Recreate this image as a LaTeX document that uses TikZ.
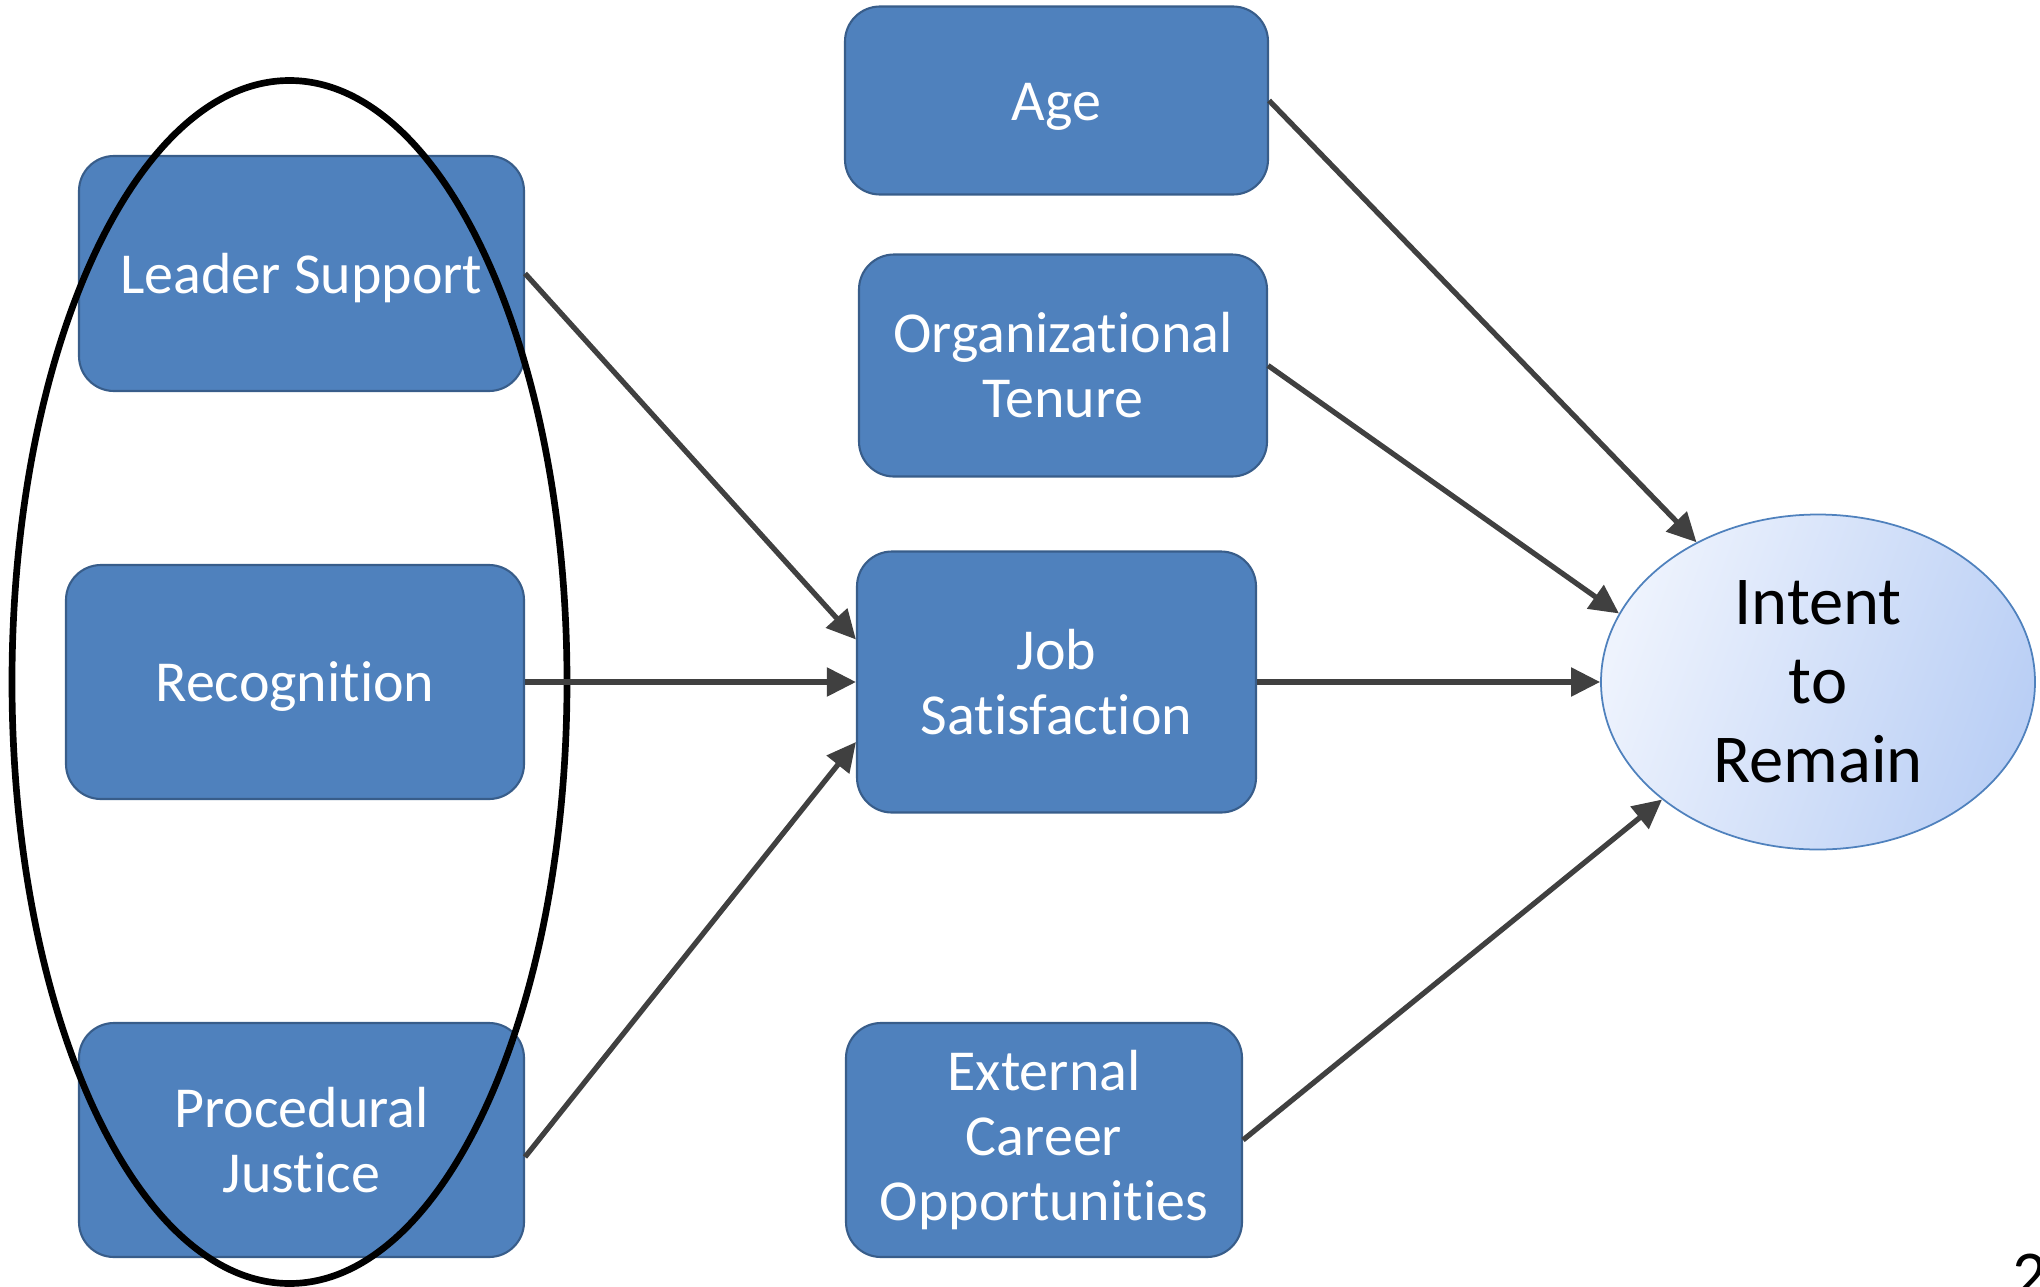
\documentclass[tikz,border=0pt]{standalone}
\usepackage{fontspec}
\setmainfont{Carlito}[Ligatures=NoCommon]
\usetikzlibrary{arrows.meta,shapes.geometric}
\definecolor{boxblue}{HTML}{4F81BD}
\definecolor{boxedge}{HTML}{385D8A}
\definecolor{arrowgray}{HTML}{404040}
\definecolor{ovallight}{HTML}{EEF3FD}
\definecolor{ovaldark}{HTML}{BACFF5}

\begin{document}
\begin{tikzpicture}
      \tikzset{
        factor/.style={draw=boxedge, line width=0.6pt, rectangle, fill=boxblue, rounded corners=0.35cm, text=white, align=center, font=\fontsize{16.5}{18.5}\selectfont},
        oneline/.style={text height=0.39cm, text depth=0pt},
        outcome/.style={draw=boxblue, line width=0.5pt, ellipse, top color=ovallight, bottom color=ovaldark, shading angle=70, align=center, inner sep=0pt, font=\fontsize{19.5}{22.5}\selectfont},
        cluster/.style={draw=black, line width=1.9pt, ellipse, inner sep=0pt},
        line/.style={draw=arrowgray, line width=1.5pt, -{Triangle[length=0.29cm, width=0.28cm]}},
      }
      \useasboundingbox (0,0) rectangle (20.4,-12.87);

      % antecedents on the left
      \node [factor, oneline, minimum width=4.45cm, minimum height=2.35cm] (lead) at (3.015,-2.735) {Leader Support};
      \node [factor, oneline, below of=lead, node distance=4.085cm, xshift=-0.065cm, minimum width=4.58cm, minimum height=2.34cm] (recog) {Recognition};
      \node [factor, below of=recog, node distance=4.58cm, xshift=0.065cm, minimum width=4.45cm, minimum height=2.34cm] (proc) {Procedural\\Justice};

      % middle column
      \node [factor, right of=recog, node distance=7.615cm, minimum width=3.99cm, minimum height=2.61cm] (jobsat) {Job\\Satisfaction};
      \node [factor, above of=jobsat, node distance=3.165cm, xshift=0.065cm, minimum width=4.08cm, minimum height=2.22cm] (tenure) {Organizational\\Tenure};
      \node [factor, oneline, above of=jobsat, node distance=5.815cm, minimum width=4.23cm, minimum height=1.88cm] (age) {Age};
      \node [factor, right of=proc, node distance=7.425cm, minimum width=3.96cm, minimum height=2.34cm] (career) {External\\Career\\Opportunities};

      \node [outcome, right of=jobsat, node distance=7.615cm, minimum width=4.34cm, minimum height=3.35cm] (intent) {Intent\\to\\Remain};

      % ring round the three left boxes
      \node [cluster, minimum width=5.55cm, minimum height=12.03cm, xshift=-0.055cm] (pillars) at (recog) {};

      \path [line] (lead.east)--([yshift=0.425cm]jobsat.west);
      \path [line] (recog.east)--(jobsat.west);
      \path [line] ([yshift=-0.17cm]proc.east)--([yshift=-0.6cm]jobsat.west);
      \path [line] (jobsat.east)--(intent.west);
      \path [line] (age.east)--(intent.131);
      \path [line] (tenure.east)--(intent.161);
      \path [line] (career.east)--(intent.217);

      \node [anchor=base west, inner sep=0pt, font=\fontsize{19.5}{22.5}\selectfont] (pagenum) at (20.12,-12.98) {2};
      \end{tikzpicture}
\end{document}
